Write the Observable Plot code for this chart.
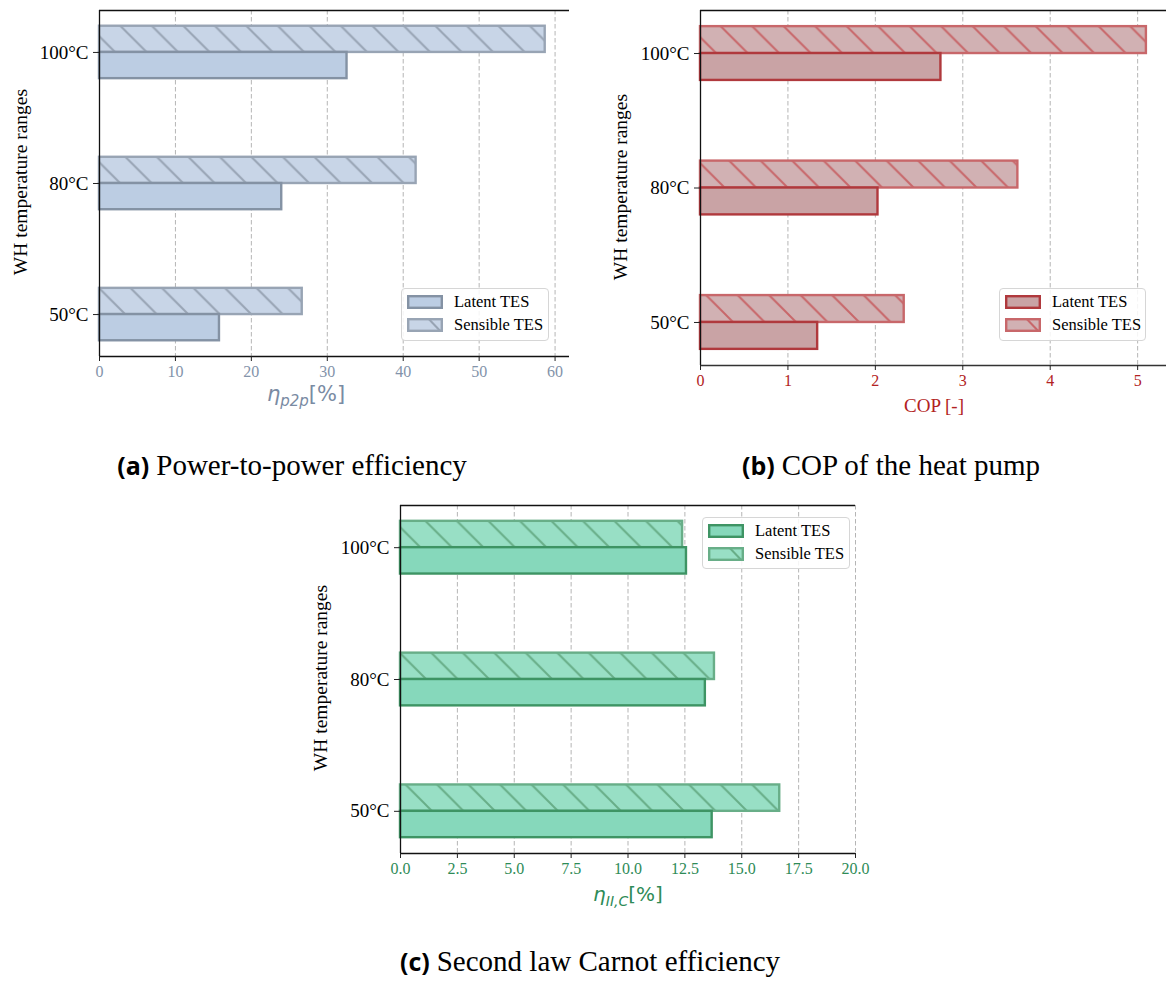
<!DOCTYPE html>
<html>
<head>
<meta charset="utf-8">
<script src="https://cdn.jsdelivr.net/npm/d3@7"></script>
<script src="https://cdn.jsdelivr.net/npm/@observablehq/plot@0.6"></script>
<style>
  html, body { margin: 0; padding: 0; background: #fff; }
  #page { position: relative; width: 1166px; height: 981px; overflow: hidden; font-family: "Liberation Serif", serif; }
  .ylab { position: absolute; font-family: "Liberation Serif", serif; font-size: 19.5px; color: #000; white-space: nowrap; transform: translate(-50%, -50%) rotate(-90deg); }
  .xlab { position: absolute; white-space: nowrap; transform: translate(-50%, -50%); }
  .legend { position: absolute; box-sizing: border-box; border: 1px solid #d6d6d6; border-radius: 4px; background: rgba(255,255,255,0.85); font-family: "Liberation Serif", serif; font-size: 16.5px; }
  .legend .item { position: absolute; left: 5px; height: 20px; display: flex; align-items: center; white-space: nowrap; }
  .legend .item span { font-family: "Liberation Serif", serif; }
  .legend svg { margin-right: 11px; }
  .caption { position: absolute; white-space: nowrap; transform: translate(-50%, 0); font-family: "Liberation Serif", serif; font-size: 29px; }
  .caption b { font-family: "Open Sans", sans-serif; font-weight: 700; font-size: 25px; margin-right: 7px; }
</style>
</head>
<body>
<div id="page"></div>
<script>
// ---- data ----
const categories = ["50°C", "80°C", "100°C"];
const seriesNames = ["Latent TES", "Sensible TES"];
const p2pLatent = [15.8, 24.0, 32.6];
const p2pSensible = [26.7, 41.7, 58.7];
const copLatent = [1.34, 2.03, 2.75];
const copSensible = [2.33, 3.63, 5.10];
const carnotLatent = [13.7, 13.4, 12.57];
const carnotSensible = [16.67, 13.8, 12.4];
const p2pTicks = [0, 10, 20, 30, 40, 50, 60];
const copTicks = [0, 1, 2, 3, 4, 5];
const carnotTicks = [0, 2.5, 5, 7.5, 10, 12.5, 15, 17.5, 20];
const yLabel = "WH temperature ranges";
const captions = [
  ["(a)", "Power-to-power efficiency"],
  ["(b)", "COP of the heat pump"],
  ["(c)", "Second law Carnot efficiency"]
];

const page = document.getElementById("page");
const barH = 0.2;

function rowsFor(latent, sensible) {
  const rows = [];
  categories.forEach((c, i) => {
    rows.push({cat: c, series: seriesNames[1], value: sensible[i], y1: i, y2: i + barH});
    rows.push({cat: c, series: seriesNames[0], value: latent[i], y1: i - barH, y2: i});
  });
  return rows;
}

function panel(cfg) {
  const rows = rowsFor(cfg.latent, cfg.sensible);
  const sens = rows.filter(d => d.series === seriesNames[1]);
  const lat = rows.filter(d => d.series === seriesNames[0]);
  const yDom = [-0.32, categories.length - 1 + 0.32];
  const hatchId = "hatch-" + cfg.id;
  const svg = Plot.plot({
    width: cfg.width,
    height: cfg.height,
    marginLeft: cfg.mL, marginRight: cfg.mR, marginTop: cfg.mT, marginBottom: cfg.mB,
    style: {fontFamily: "Liberation Serif, serif", background: "transparent", overflow: "visible"},
    x: {domain: cfg.xDomain},
    y: {domain: yDom},
    marks: [
      Plot.ruleX(cfg.xTicks, {stroke: "#b5b5b5", strokeDasharray: "4.5,2.5", strokeWidth: 1}),
      Plot.rect(sens, {x1: d => 0, x2: "value", y1: "y1", y2: "y2", fill: "url(#" + hatchId + ")", stroke: cfg.c.sensEdge, strokeWidth: 2.4}),
      Plot.rect(lat, {x1: d => 0, x2: "value", y1: "y1", y2: "y2", fill: cfg.c.latFill, stroke: cfg.c.latEdge, strokeWidth: 2.4}),
      Plot.ruleX([0], {stroke: "#111", strokeWidth: 1.3}),
      Plot.ruleY([yDom[0]], {stroke: cfg.c.bottomSpine || "#111", strokeWidth: 1.3}),
      Plot.ruleY([yDom[1]], {stroke: "#111", strokeWidth: 1.3}),
      Plot.axisX({ticks: cfg.xTicks, tickFormat: cfg.xFmt, tickSize: 5, tickPadding: 4, stroke: "#222", fill: cfg.c.tick, fontSize: 16, label: null}),
      Plot.axisY({ticks: categories.map((c, i) => i), tickFormat: i => categories[i], tickSize: 6, tickPadding: 5, stroke: "#222", fill: "#000", fontSize: 19, label: null})
    ]
  });
  // hatch pattern definition
  const s = 31.5;
  const ns = "http://www.w3.org/2000/svg";
  const defs = document.createElementNS(ns, "defs");
  const pat = document.createElementNS(ns, "pattern");
  pat.setAttribute("id", hatchId);
  pat.setAttribute("patternUnits", "userSpaceOnUse");
  pat.setAttribute("width", s);
  pat.setAttribute("height", s);
  const bg = document.createElementNS(ns, "rect");
  bg.setAttribute("width", s); bg.setAttribute("height", s); bg.setAttribute("fill", cfg.c.sensFill);
  const ln = document.createElementNS(ns, "path");
  ln.setAttribute("d", `M-2,-2L${s+2},${s+2}M-2,${s-2}L2,${s+2}M${s-2},-2L${s+2},2`);
  ln.setAttribute("stroke", cfg.c.sensEdge);
  ln.setAttribute("stroke-width", 2);
  pat.appendChild(bg); pat.appendChild(ln); defs.appendChild(pat);
  svg.insertBefore(defs, svg.firstChild);
  svg.style.position = "absolute";
  svg.style.left = cfg.left + "px";
  svg.style.top = cfg.top + "px";
  page.appendChild(svg);

  // y label
  const yl = document.createElement("div");
  yl.className = "ylab";
  yl.textContent = yLabel;
  yl.style.left = cfg.yLab[0] + "px";
  yl.style.top = cfg.yLab[1] + "px";
  page.appendChild(yl);

  // x label
  const xl = document.createElement("div");
  xl.className = "xlab";
  xl.innerHTML = cfg.xLabHTML;
  xl.style.left = cfg.xLab[0] + "px";
  xl.style.top = cfg.xLab[1] + "px";
  xl.style.color = cfg.c.xlab;
  page.appendChild(xl);

  // legend
  const lg = document.createElement("div");
  lg.className = "legend";
  lg.style.left = cfg.legend[0] + "px";
  lg.style.top = cfg.legend[1] + "px";
  lg.style.width = cfg.legend[2] + "px";
  lg.style.height = cfg.legend[3] + "px";
  const patch = (fill, edge, hatch) =>
    `<svg width="36" height="14" viewBox="0 0 36 14"><rect x="1.2" y="1.2" width="33.6" height="11.6" fill="${fill}" stroke="${edge}" stroke-width="2.4"/>` +
    (hatch ? `<line x1="22" y1="1.2" x2="33" y2="12.8" stroke="${edge}" stroke-width="2"/>` : "") + `</svg>`;
  lg.innerHTML =
    `<div class="item" style="top:3px">${patch(cfg.c.latFill, cfg.c.latEdge, false)}<span>${seriesNames[0]}</span></div>` +
    `<div class="item" style="top:26px">${patch(cfg.c.sensFill, cfg.c.sensEdge, true)}<span>${seriesNames[1]}</span></div>`;
  page.appendChild(lg);

  // caption
  const cp = document.createElement("div");
  cp.className = "caption";
  cp.innerHTML = `<b>${cfg.caption[0]}</b>${cfg.caption[1]}`;
  cp.style.left = cfg.capPos[0] + "px";
  cp.style.top = cfg.capPos[1] + "px";
  page.appendChild(cp);
}

const mathLab = (sub, size) => `<span style="font-family:'DejaVu Sans',sans-serif;font-size:${size}px"><i>η</i><sub style="font-size:${Math.round(size*0.7)}px;vertical-align:-5px"><i>${sub}</i></sub>[%]</span>`;

panel({
  id: "a", left: 0, top: 0, width: 600, height: 420,
  mL: 99, mR: 31, mT: 10, mB: 64,
  xDomain: [0, 61.9], xTicks: p2pTicks, xFmt: d => String(d),
  latent: p2pLatent, sensible: p2pSensible,
  c: {latFill: "#bccde3", sensFill: "#c8d5e7", latEdge: "#8492a4", sensEdge: "#98a4b4", tick: "#8393aa", xlab: "#7a8ba3"},
  yLab: [21, 182], xLab: [306, 396], xLabHTML: mathLab("p2p", 21),
  legend: [401, 288, 148, 53],
  caption: captions[0], capPos: [292, 448]
});

panel({
  id: "b", left: 600, top: 0, width: 566, height: 420,
  mL: 100, mR: 0, mT: 10, mB: 55,
  xDomain: [0, 5.33], xTicks: copTicks, xFmt: d => String(d),
  latent: copLatent, sensible: copSensible,
  c: {latFill: "#c9a3a5", sensFill: "#d1b1b3", latEdge: "#b0393d", sensEdge: "#c8676a", tick: "#b22222", xlab: "#b22222", bottomSpine: "#333"},
  yLab: [621, 187], xLab: [934, 406], xLabHTML: `<span style="font-family:'Liberation Serif',serif;font-size:19px">COP [-]</span>`,
  legend: [999, 288, 147, 53],
  caption: captions[1], capPos: [891, 448]
});

panel({
  id: "c", left: 300, top: 490, width: 580, height: 420,
  mL: 100, mR: 25, mT: 15, mB: 57,
  xDomain: [0, 20], xTicks: carnotTicks, xFmt: d => d.toFixed(1),
  latent: carnotLatent, sensible: carnotSensible,
  c: {latFill: "#86d8bb", sensFill: "#98dfc5", latEdge: "#3e9464", sensEdge: "#68ae88", tick: "#2e8b57", xlab: "#2e8b57"},
  yLab: [321, 678], xLab: [628, 895], xLabHTML: mathLab("II,C", 20),
  legend: [702, 517, 148, 52],
  caption: captions[2], capPos: [590, 944]
});
</script>
</body>
</html>
